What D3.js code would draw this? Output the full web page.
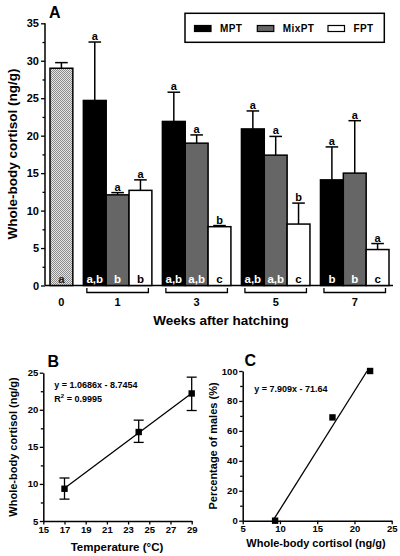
<!DOCTYPE html>
<html><head><meta charset="utf-8">
<script src="https://cdn.jsdelivr.net/npm/d3@7"></script>
<style>
body{margin:0;background:#fff;}
svg{display:block;font-family:"Liberation Sans",Arial,sans-serif;font-weight:bold;}
</style></head>
<body>
<script>
// ---------- Data ----------
const weeks = ["0","1","3","5","7"];
const treatments = ["MPT","MixPT","FPT"];
const treatColors = ["#000000","#666666","#ffffff"];
// week 0 (before treatment)
const week0Value = 29.0, week0Err = 0.75, week0Letter = "a";
// weeks 1,3,5,7
const mptValues   = [24.7, 21.9, 20.9, 14.1];
const mptErr      = [7.8, 3.9, 2.4, 4.4];
const mixValues   = [12.1, 19.0, 17.4, 15.0];
const mixErr      = [0.3, 1.1, 2.5, 7.0];
const fptValues   = [12.7, 7.85, 8.2, 4.8];
const fptErr      = [1.4, 0.15, 2.8, 0.8];
const topLetters    = [["a","a","a","a"],["a","a","a","a"],["a","b","b","a"]];
const bottomLetters = [["a,b","a,b","a,b","b"],["b","a,b","a,b","b"],["b","c","c","c"]];
const yTicksA = [0,5,10,15,20,25,30,35];

// Panel B
const tempB = [17, 24, 29];
const cortB = [9.35, 17.0, 22.2];
const cortBLow = [7.95, 15.6, 19.9];
const cortBHigh = [10.8, 18.6, 24.4];
const lineB = [[17, 9.42], [29, 22.24]];
const eqB1 = "y = 1.0686x - 8.7454";
const xTicksB = [15,17,19,21,23,25,27,29];
const yTicksB = [5,10,15,20,25];

// Panel C
const cortC = [9.35, 17.05, 22.1];
const malesC = [0, 69, 100];
const lineC = [[9.06, 0], [21.70, 100]];
const eqC = "y = 7.909x - 71.64";
const xTicksC = [5,10,15,20,25];
const yTicksC = [0,20,40,60,80,100];

// ---------- Drawing ----------
const svg = d3.select("body").append("svg").attr("width",400).attr("height",556);
const defs = svg.append("defs");
const pat = defs.append("pattern").attr("id","hatch").attr("width",2).attr("height",2).attr("patternUnits","userSpaceOnUse");
pat.append("rect").attr("width",2).attr("height",2).attr("fill","#e6e6e6");
pat.append("rect").attr("width",1).attr("height",1).attr("fill","#8a8a8a");
pat.append("rect").attr("x",1).attr("y",1).attr("width",1).attr("height",1).attr("fill","#8a8a8a");

function styleAxis(g, fs){
  g.selectAll("path.domain").attr("stroke","#000").attr("stroke-width",1.5);
  g.selectAll(".tick line").attr("stroke","#000").attr("stroke-width",1.3);
  g.selectAll(".tick text").attr("font-size",fs).attr("font-weight","bold").attr("fill","#000")
    .attr("font-family","Liberation Sans, Arial, sans-serif");
}

// ===== Panel A =====
const yA = d3.scaleLinear().domain([0,35]).range([285.5,23.3]);
const gap = 0.46;
const xA = d3.scaleLinear().domain([0, 1 + 4*(3+gap)]).range([50,389]);
const gA = svg.append("g");

// minor ticks
const minorA = yTicksA.slice(0,-1).map(v=>v+2.5);
const axMinorA = gA.append("g").attr("transform","translate(45,0)")
  .call(d3.axisLeft(yA).tickValues(minorA).tickSize(2.5).tickSizeOuter(0).tickFormat(""));
styleAxis(axMinorA,11);
axMinorA.select("path.domain").remove();
const axA = gA.append("g").attr("transform","translate(45,0)")
  .call(d3.axisLeft(yA).tickValues(yTicksA).tickSize(4).tickSizeOuter(0).tickPadding(2));
styleAxis(axA,11);
axA.select("path.domain").attr("d",`M0,${yA(35)}V${yA(0)}`);
// baseline
gA.append("line").attr("x1",45).attr("x2",393).attr("y1",yA(0)).attr("y2",yA(0))
  .attr("stroke","#000").attr("stroke-width",1.5);

// bar data
const bars = [];
bars.push({pos:0, value:week0Value, err:week0Err, fill:"url(#hatch)", top:null, bottom:week0Letter, bottomColor:"#222"});
const vals = [mptValues, mixValues, fptValues];
const errs = [mptErr, mixErr, fptErr];
for(let w=0; w<4; w++){
  for(let t=0; t<3; t++){
    bars.push({pos: 1 + w*(3+gap) + gap + t, value: vals[t][w], err: errs[t][w],
      fill: treatColors[t], top: topLetters[t][w], bottom: bottomLetters[t][w],
      bottomColor: t<2 ? "#fff" : "#000"});
  }
}
const bw = xA(1)-xA(0);
// error bars (upper only)
const eb = gA.append("g");
bars.forEach(d=>{
  const cx = xA(d.pos+0.5);
  eb.append("line").attr("x1",cx).attr("x2",cx).attr("y1",yA(d.value)).attr("y2",yA(d.value+d.err))
    .attr("stroke","#000").attr("stroke-width",1.5);
  eb.append("line").attr("x1",cx-6.3).attr("x2",cx+6.3).attr("y1",yA(d.value+d.err)).attr("y2",yA(d.value+d.err))
    .attr("stroke","#000").attr("stroke-width",1.5);
  if(d.top){
    eb.append("text").attr("x",cx).attr("y",yA(d.value+d.err)-2).attr("text-anchor","middle")
      .attr("font-size",11).text(d.top);
  }
});
gA.append("g").selectAll("rect").data(bars).join("rect")
  .attr("x",d=>xA(d.pos)).attr("width",bw)
  .attr("y",d=>yA(d.value)).attr("height",d=>yA(0)-yA(d.value))
  .attr("fill",d=>d.fill).attr("stroke","#000").attr("stroke-width",1.5);
gA.append("g").selectAll("text").data(bars).join("text")
  .attr("x",d=>xA(d.pos+0.5)).attr("y",282.5).attr("text-anchor","middle")
  .attr("font-size",11.5).attr("fill",d=>d.bottomColor).text(d=>d.bottom);

// week labels and brackets
weeks.forEach((wk,i)=>{
  if(i===0){
    gA.append("text").attr("x",xA(0.5)).attr("y",305.5).attr("text-anchor","middle").attr("font-size",11).text(wk);
  } else {
    const s = 1 + (i-1)*(3+gap) + gap;
    const x1 = xA(s)+3.5, x2 = xA(s+3)-3.5;
    gA.append("path").attr("d",`M${x1},288V292.5H${x2}V288`).attr("fill","none")
      .attr("stroke","#000").attr("stroke-width",1.3);
    gA.append("text").attr("x",xA(s+1.5)).attr("y",306).attr("text-anchor","middle").attr("font-size",11).text(wk);
  }
});
gA.append("text").attr("x",221).attr("y",325).attr("text-anchor","middle").attr("font-size",13.5).text("Weeks after hatching");
gA.append("text").attr("transform","translate(17,154) rotate(-90)").attr("text-anchor","middle")
  .attr("font-size",13.5).text("Whole-body cortisol (ng/g)");
gA.append("text").attr("x",49).attr("y",17.5).attr("font-size",16).text("A");

// legend
const lg = gA.append("g");
lg.append("rect").attr("x",185).attr("y",13.3).attr("width",199.3).attr("height",29)
  .attr("fill","#fff").attr("stroke","#000").attr("stroke-width",1.5);
const legX = [194.5, 257.3, 328];
treatments.forEach((t,i)=>{
  lg.append("rect").attr("x",legX[i]).attr("y",25.5).attr("width",16.5).attr("height",6)
    .attr("fill",treatColors[i]).attr("stroke","#000").attr("stroke-width",1.2);
  lg.append("text").attr("x",legX[i]+25.5).attr("y",32.3).attr("font-size",10).attr("letter-spacing",0.4).text(t);
});

// ===== Panel B =====
const xB = d3.scaleLinear().domain([15,29]).range([43.3,191.7]);
const yB = d3.scaleLinear().domain([5,25]).range([521,372.7]);
const gB = svg.append("g");
const axMinorB = gB.append("g").attr("transform","translate(43.3,0)")
  .call(d3.axisLeft(yB).tickValues([7.5,12.5,17.5,22.5]).tickSize(2.5).tickSizeOuter(0).tickFormat(""));
styleAxis(axMinorB,9); axMinorB.select("path.domain").remove();
const axBy = gB.append("g").attr("transform","translate(43.3,0)")
  .call(d3.axisLeft(yB).tickValues(yTicksB).tickSize(3.5).tickSizeOuter(0).tickPadding(1.5));
styleAxis(axBy,9.5);
const axBx = gB.append("g").attr("transform","translate(0,521)")
  .call(d3.axisBottom(xB).tickValues(xTicksB).tickSize(3.5).tickSizeOuter(0).tickPadding(1.5));
styleAxis(axBx,9.5);
gB.append("line").attr("x1",xB(lineB[0][0])).attr("y1",yB(lineB[0][1]))
  .attr("x2",xB(lineB[1][0])).attr("y2",yB(lineB[1][1])).attr("stroke","#000").attr("stroke-width",1.3);
tempB.forEach((t,i)=>{
  const cx = xB(t);
  gB.append("line").attr("x1",cx).attr("x2",cx).attr("y1",yB(cortBLow[i])).attr("y2",yB(cortBHigh[i])).attr("stroke","#000").attr("stroke-width",1.3);
  [cortBLow[i],cortBHigh[i]].forEach(v=>gB.append("line").attr("x1",cx-5).attr("x2",cx+5).attr("y1",yB(v)).attr("y2",yB(v)).attr("stroke","#000").attr("stroke-width",1.3));
});
gB.selectAll("rect.pt").data(tempB).join("rect").attr("class","pt")
  .attr("x",(d)=>xB(d)-3.2).attr("y",(d,i)=>yB(cortB[i])-3.2).attr("width",6.4).attr("height",6.4).attr("fill","#000");
gB.append("text").attr("x",54.3).attr("y",387.5).attr("font-size",9).text(eqB1);
const r2 = gB.append("text").attr("x",54.3).attr("y",401.5).attr("font-size",9);
r2.append("tspan").text("R");
r2.append("tspan").attr("font-size",6).attr("dy",-4).text("2");
r2.append("tspan").attr("dy",4).text(" = 0.9995");
gB.append("text").attr("x",117).attr("y",551).attr("text-anchor","middle").attr("font-size",11.5).text("Temperature (°C)");
gB.append("text").attr("transform","translate(17,447) rotate(-90)").attr("text-anchor","middle").attr("font-size",11).text("Whole-body cortisol (ng/g)");
gB.append("text").attr("x",47.5).attr("y",367).attr("font-size",16).text("B");

// ===== Panel C =====
const xC = d3.scaleLinear().domain([5,25]).range([242.7,391.7]);
const yC = d3.scaleLinear().domain([0,100]).range([520.7,371]);
const gC = svg.append("g");
const axMinorC = gC.append("g").attr("transform","translate(242.7,0)")
  .call(d3.axisLeft(yC).tickValues([10,30,50,70,90]).tickSize(2.5).tickSizeOuter(0).tickFormat(""));
styleAxis(axMinorC,9); axMinorC.select("path.domain").remove();
const axCy = gC.append("g").attr("transform","translate(242.7,0)")
  .call(d3.axisLeft(yC).tickValues(yTicksC).tickSize(3.5).tickSizeOuter(0).tickPadding(1.5));
styleAxis(axCy,9.5);
const axCx = gC.append("g").attr("transform","translate(0,520.7)")
  .call(d3.axisBottom(xC).tickValues(xTicksC).tickSize(3.5).tickSizeOuter(0).tickPadding(1.5));
styleAxis(axCx,9.5);
gC.append("line").attr("x1",xC(lineC[0][0])).attr("y1",yC(lineC[0][1]))
  .attr("x2",xC(lineC[1][0])).attr("y2",yC(lineC[1][1])).attr("stroke","#000").attr("stroke-width",1.3);
gC.selectAll("rect.pt").data(cortC).join("rect").attr("class","pt")
  .attr("x",d=>xC(d)-3.2).attr("y",(d,i)=>yC(malesC[i])-3.2).attr("width",6.4).attr("height",6.4).attr("fill","#000");
gC.append("text").attr("x",254.3).attr("y",391.5).attr("font-size",9).text(eqC);
gC.append("text").attr("x",316).attr("y",547).attr("text-anchor","middle").attr("font-size",11).text("Whole-body cortisol (ng/g)");
gC.append("text").attr("transform","translate(217,446) rotate(-90)").attr("text-anchor","middle").attr("font-size",11).text("Percentage of males (%)");
gC.append("text").attr("x",244.5).attr("y",366).attr("font-size",16).text("C");
</script>
</body></html>
